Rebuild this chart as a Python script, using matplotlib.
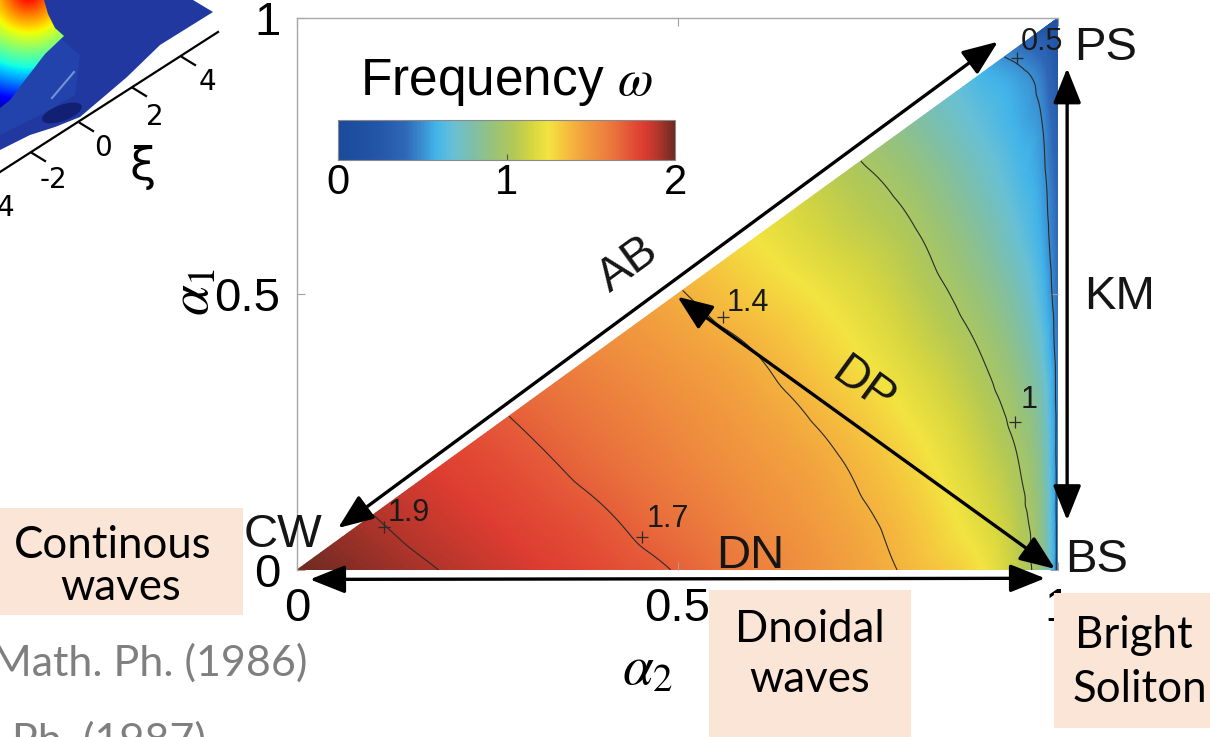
import numpy as np
import matplotlib
matplotlib.use("Agg")
import matplotlib.pyplot as plt
import matplotlib.tri as mtri
from matplotlib.colors import LinearSegmentedColormap, Normalize
from matplotlib.cm import ScalarMappable
from matplotlib.patches import Rectangle, Polygon, Ellipse

plt.rcParams["font.family"] = ["Liberation Sans", "DejaVu Sans"]
plt.rcParams["mathtext.fontset"] = "stix"

# grid of the phase diagram (alpha2 across, alpha1 up), same steps both ways
grid_steps = [0, .1, .2, .3, .4, .5, .6, .7, .8, .9, .95, .98, 1.0]
# frequency omega, row k = alpha1 step k, starting at alpha2 == alpha1
omega_rows = [
    [2.00, 1.947, 1.892, 1.829, 1.763, 1.693, 1.591, 1.49, 1.386, 1.25, 1.07, 0.87, 0.45],
    [1.90, 1.839, 1.776, 1.711, 1.628, 1.541, 1.454, 1.35, 1.18, 1.04, 0.85, 0.45],
    [1.79, 1.726, 1.653, 1.574, 1.495, 1.416, 1.30, 1.12, 0.99, 0.81, 0.45],
    [1.674, 1.601, 1.527, 1.45, 1.359, 1.233, 1.06, 0.92, 0.76, 0.45],
    [1.543, 1.471, 1.398, 1.292, 1.162, 0.99, 0.84, 0.68, 0.44],
    [1.41, 1.32, 1.225, 1.098, 0.91, 0.76, 0.61, 0.42],
    [1.25, 1.143, 1.036, 0.83, 0.68, 0.56, 0.40],
    [1.082, 0.958, 0.75, 0.62, 0.53, 0.38],
    [0.86, 0.67, 0.57, 0.50, 0.33],
    [0.59, 0.52, 0.44, 0.27],
    [0.42, 0.35, 0.22],
    [0.25, 0.20],
    [0.15],
]
contour_levels = [0.5, 1.0, 1.4, 1.7, 1.9]
# contour labels: text, '+' point on the line, text place
clabel_text = ["0.5", "1.4", "1.7", "1.9", "1"]
clabel_mark_a2 = [0.946, 0.560, 0.453, 0.114, 0.943]
clabel_mark_a1 = [0.928, 0.458, 0.060, 0.078, 0.268]
clabel_text_a2 = [0.979, 0.592, 0.487, 0.147, 0.962]
clabel_text_a1 = [0.956, 0.484, 0.092, 0.104, 0.308]

cbar_ticks = [0, 1, 2]
axis_ticks = [0, 0.5, 1]
xi_ticks = ["4", "-2", "0", "2", "4"]

# colormap
cmap_stops = [
    (0.00, "#1b4a9a"), (0.10, "#1d4fa0"), (0.25, "#2457a8"), (0.40, "#2f68b8"),
    (0.50, "#3a8fd2"), (0.58, "#42b4ea"), (0.68, "#68c0d6"), (0.80, "#7fbfa8"),
    (0.92, "#98c27a"), (1.05, "#b4c955"), (1.15, "#d6d640"), (1.25, "#f3e440"),
    (1.35, "#f5c23e"), (1.45, "#f2a23e"), (1.55, "#ee8a3e"), (1.65, "#e9703c"),
    (1.75, "#e34e36"), (1.82, "#dc3c30"), (1.90, "#b4352b"), (2.00, "#6e2a22"),
]
cmap = LinearSegmentedColormap.from_list("freq", [(v / 2, c) for v, c in cmap_stops])

W, H = 1210, 737
fig = plt.figure(figsize=(W / 100, H / 100), dpi=100)
fig.patch.set_facecolor("white")

def fig_rect(x0, y0, x1, y1):
    # pixel box (y from top) -> figure fraction
    return [x0 / W, 1 - y1 / H, (x1 - x0) / W, (y1 - y0) / H]

# ---- main triangle ----
ax = fig.add_axes(fig_rect(297, 18, 1058, 570))
n = len(grid_steps)
idx = {}
px, py, pz = [], [], []
for i in range(n):
    for j in range(i, n):
        idx[(i, j)] = len(px)
        px.append(grid_steps[j])
        py.append(grid_steps[i])
        pz.append(omega_rows[i][j - i])
tris = []
for i in range(n - 1):
    for j in range(i + 1, n):
        if j == i + 1:
            tris.append([idx[(i, i)], idx[(i, i + 1)], idx[(i + 1, i + 1)]])
        else:
            tris.append([idx[(i, j - 1)], idx[(i, j)], idx[(i + 1, j)]])
            tris.append([idx[(i, j - 1)], idx[(i + 1, j)], idx[(i + 1, j - 1)]])
tri = mtri.Triangulation(px, py, tris)
pz = np.array(pz)
interp = mtri.CubicTriInterpolator(tri, pz, kind="geom")
tri_r, z_r = mtri.UniformTriRefiner(tri).refine_field(pz, triinterpolator=interp, subdiv=5)
z_r = np.clip(z_r, 0.01, 1.99)

ax.tripcolor(tri_r, z_r, shading="gouraud", cmap=cmap, vmin=0, vmax=2)
ax.tricontour(tri_r, z_r, levels=contour_levels, colors="#2b2b2b", linewidths=0.8)
ax.plot(clabel_mark_a2, clabel_mark_a1, "+", color="#2b2b2b", ms=9, mew=0.9)
for t, x, y in zip(clabel_text, clabel_text_a2, clabel_text_a1):
    ax.text(x, y, t, fontsize=22, ha="center", va="center", color="#1a1a1a")

ax.set_xlim(0, 1)
ax.set_ylim(0, 1)
ax.set_xticks(axis_ticks)
ax.set_yticks(axis_ticks)
ax.set_xticklabels(["0", "0.5", "1"])
ax.set_yticklabels(["0", "0.5", "1"])
ax.tick_params(direction="in", length=6, color="#a0a0a0", labelsize=34, top=True, right=True)
ax.tick_params(axis="x", pad=12)
ax.tick_params(axis="y", pad=12)
for s in ["left", "top"]:
    ax.spines[s].set_color("#a8a8a8")
    ax.spines[s].set_linewidth(1.0)
for s in ["right", "bottom"]:
    ax.spines[s].set_visible(False)

# arrows between the limits
arr = dict(arrowstyle="<|-|>,head_length=0.6,head_width=0.24", color="black",
           lw=2.4, mutation_scale=36, shrinkA=0, shrinkB=0)
for (x0, y0), (x1, y1) in [((0.054, 0.076), (0.921, 0.957)),
                           ((1.012, 0.090), (1.012, 0.909)),
                           ((0.500, 0.495), (0.996, 0.002)),
                           ((0.017, -0.017), (0.983, -0.015))]:
    ax.annotate("", xy=(x1, y1), xytext=(x0, y0), arrowprops=arr, annotation_clip=False)

big = dict(fontsize=34, ha="center", va="center", color="#151515", clip_on=False)
ax.text(1.062, 0.946, "PS", **big)
ax.text(1.081, 0.495, "KM", **big)
ax.text(1.051, 0.018, "BS", **big)
ax.text(-0.018, 0.064, "CW", **big)
ax.text(0.595, 0.025, "DN", **big)
ax.text(0.435, 0.553, "AB", rotation=36, **big)
ax.text(0.744, 0.333, "DP", rotation=-36, **big)

# ---- colour bar ----
cax = fig.add_axes(fig_rect(338, 120, 675, 160))
cb = fig.colorbar(ScalarMappable(norm=Normalize(0, 2), cmap=cmap), cax=cax,
                  orientation="horizontal", ticks=cbar_ticks)
cb.outline.set_edgecolor("#8a8a8a")
cb.outline.set_linewidth(0.8)
cax.tick_params(labelsize=30, length=4, direction="in", color="#555555", pad=2)

# ---- overlay in pixels: thumbnail, labels, boxes ----
ov = fig.add_axes([0, 0, 1, 1])
ov.set_xlim(0, W)
ov.set_ylim(H, 0)
ov.axis("off")
ov.patch.set_alpha(0)

ov.text(506, 82, r"Frequency $\omega$", fontsize=37, ha="center", va="center")
ov.text(194, 292, r"$\alpha_1$", fontsize=40, rotation=90, ha="center", va="center")
ov.text(648, 670, r"$\alpha_2$", fontsize=40, ha="center", va="center")

# 3d surface thumbnail, cut by the page corner
ov.add_patch(Polygon([(0, 0), (193, 0), (213, 12), (160, 45), (127, 77), (100, 100),
                      (80, 117), (55, 127), (30, 135), (0, 150)],
                     closed=True, facecolor="#2038a0", edgecolor="none", zorder=1))
ov.add_patch(Polygon([(0, 40), (50, 30), (80, 55), (75, 95), (40, 115), (0, 135)],
                     closed=True, facecolor="#2a55c0", edgecolor="none", alpha=0.4, zorder=1.1))
ov.add_patch(Ellipse((62, 113), 42, 16, angle=-20, facecolor="#0d1660",
                     edgecolor="none", alpha=0.7, zorder=1.2))
peak = Polygon([(0, 0), (44, 0), (48, 14), (55, 28), (64, 36), (45, 54), (25, 80),
                (10, 100), (0, 108)], closed=True, facecolor="none", edgecolor="none")
ov.add_patch(peak)
gx, gy = np.meshgrid(np.arange(0, 70), np.arange(0, 115))
grad = 0.95 - np.hypot(gx - 28, gy + 8) / 130
im = ov.imshow(grad, cmap="jet", vmin=0, vmax=1, extent=(0, 70, 115, 0),
               aspect="auto", zorder=1.5)
im.set_clip_path(peak)
ov.plot([52, 74], [98, 72], color="#a8c8f0", lw=1.5, alpha=0.6, zorder=2)
ov.plot([0, 218], [172, 32], color="black", lw=1.6)
for (tx, ty), (lx, ly), lab in zip([(-18, 183), (32, 153), (80, 123), (133, 88), (182, 57)],
                                   [(5, 208), (53, 180), (103, 148), (155, 117), (207, 82)],
                                   xi_ticks):
    ov.plot([tx, tx + 13], [ty, ty + 8], color="black", lw=1.6)
    ov.text(lx, ly, lab, fontsize=20, ha="center", va="center", family="DejaVu Sans")
ov.text(143, 167, "\u03be", fontsize=34, ha="center", va="center", family="DejaVu Sans")

# text boxes of the slide
box_col = "#fbe5d6"
box = dict(fontsize=31.5, ha="center", va="center", family=["Lato", "DejaVu Sans"], color="black")
ov.add_patch(Rectangle((0, 508), 243, 107, facecolor=box_col, edgecolor="none"))
ov.text(113, 545, "Continous", **box)
ov.text(121, 588, "waves", **box)
ov.add_patch(Rectangle((709, 590), 202, 150, facecolor=box_col, edgecolor="none"))
ov.text(810, 630, "Dnoidal", **box)
ov.text(810, 680, "waves", **box)
ov.add_patch(Rectangle((1054, 593), 160, 135, facecolor=box_col, edgecolor="none"))
ov.text(1134, 636, "Bright", **box)
ov.text(1140, 690, "Soliton", **box)

cite = dict(fontsize=31, ha="left", va="center", family=["Lato", "DejaVu Sans"], color="#7f7f7f")
ov.text(-8, 663, "Math. Ph. (1986)", **cite)
ov.text(12, 741, "Ph. (1987)", **cite)

fig.savefig("out.png", dpi=100)
